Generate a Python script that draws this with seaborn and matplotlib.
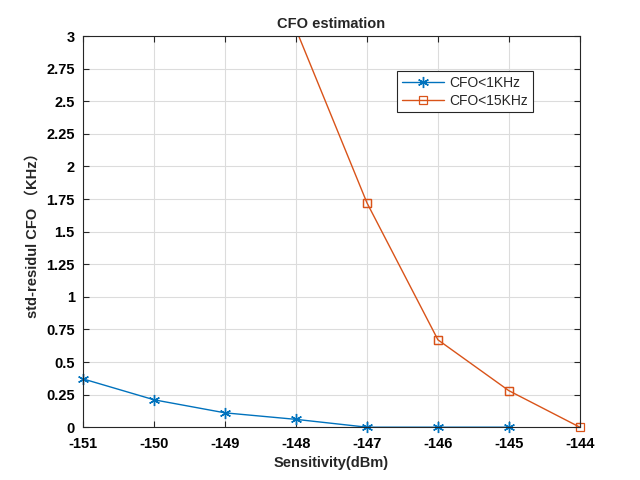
import numpy as np
import pandas as pd
import matplotlib
matplotlib.use("Agg")
import matplotlib.pyplot as plt
import seaborn as sns

# Data
x_low = [-151, -150, -149, -148, -147, -146, -145]
y_low = [0.37, 0.21, 0.11, 0.06, 0.0, 0.0, 0.0]
x_high = [-148, -147, -146, -145, -144]
y_high = [3.05, 1.72, 0.67, 0.28, 0.0]
label_low = "CFO<1KHz"
label_high = "CFO<15KHz"
x_ticks = [-151, -150, -149, -148, -147, -146, -145, -144]
y_ticks = [0, 0.25, 0.5, 0.75, 1, 1.25, 1.5, 1.75, 2, 2.25, 2.5, 2.75, 3]
y_tick_labels = ["0", "0.25", "0.5", "0.75", "1", "1.25", "1.5", "1.75", "2",
                 "2.25", "2.5", "2.75", "3"]

sns.set_style("white")
plt.rcParams["font.family"] = ["Liberation Sans", "Noto Sans CJK SC", "DejaVu Sans"]
plt.rcParams["axes.unicode_minus"] = False

fig = plt.figure(figsize=(6.4, 4.8), dpi=100)
ax = fig.add_axes([0.13, 0.11, 0.776, 0.815])

YMIN, YMAX = 0, 3
df_low = pd.DataFrame({"x": x_low, "y": y_low})
df_high = pd.DataFrame({"x": x_high, "y": y_high})

blue_kw = dict(marker=(6, 2, 0), markersize=8, markeredgewidth=1.0,
               markerfacecolor="#0072BD", markeredgecolor="#0072BD")
orange_kw = dict(marker="s", markersize=6, markeredgewidth=0.9,
                 markerfacecolor="none", markeredgecolor="#D95319")

sns.lineplot(data=df_low, x="x", y="y", ax=ax, color="#0072BD", lw=1.0,
             label=label_low, **blue_kw)
sns.lineplot(data=df_high, x="x", y="y", ax=ax, color="#D95319", lw=1.0,
             label=label_high, **orange_kw)
for ln in ax.lines[:1]:
    ln.set_clip_on(False)
# markers of in-range points drawn unclipped (as MATLAB does)
df_high_in = df_high[(df_high.y >= YMIN) & (df_high.y <= YMAX)]
sns.lineplot(data=df_high_in, x="x", y="y", ax=ax, linestyle="none",
             legend=False, **orange_kw)
ax.lines[-1].set_clip_on(False)

ax.set_xlim(-151, -144)
ax.set_ylim(YMIN, YMAX)
ax.set_xticks(x_ticks)
ax.set_xticklabels([str(v) for v in x_ticks])
ax.set_yticks(y_ticks)
ax.set_yticklabels(y_tick_labels)

ax.grid(True, color="#dcdcdc", lw=0.8)
ax.set_axisbelow(True)
for s in ax.spines.values():
    s.set_visible(True)
    s.set_color("#262626")
    s.set_linewidth(0.8)

ax.tick_params(direction="in", length=4, width=0.8, top=True, right=True,
               bottom=True, left=True, labelsize=10.5, colors="#262626",
               labelcolor="black")
ax.tick_params(axis="x", pad=7)
ax.tick_params(axis="y", pad=6)
for lab in ax.get_xticklabels() + ax.get_yticklabels():
    lab.set_fontweight("bold")

ax.set_title("CFO estimation", fontsize=10.5, fontweight="bold", pad=6)
ax.set_xlabel("Sensitivity(dBm)", fontsize=10.5, fontweight="bold", labelpad=4)
ax.set_ylabel("std-residul CFO （KHz）", fontsize=10.5, fontweight="bold", labelpad=5)

leg = ax.legend(loc="upper left", bbox_to_anchor=(0.632, 0.91), fontsize=10,
                frameon=True, fancybox=False, framealpha=1, edgecolor="#262626",
                borderpad=0.35, handlelength=3.0, handletextpad=0.4,
                labelspacing=0.25, borderaxespad=0)
leg.get_frame().set_linewidth(0.8)

fig.savefig("out.png", dpi=100)
